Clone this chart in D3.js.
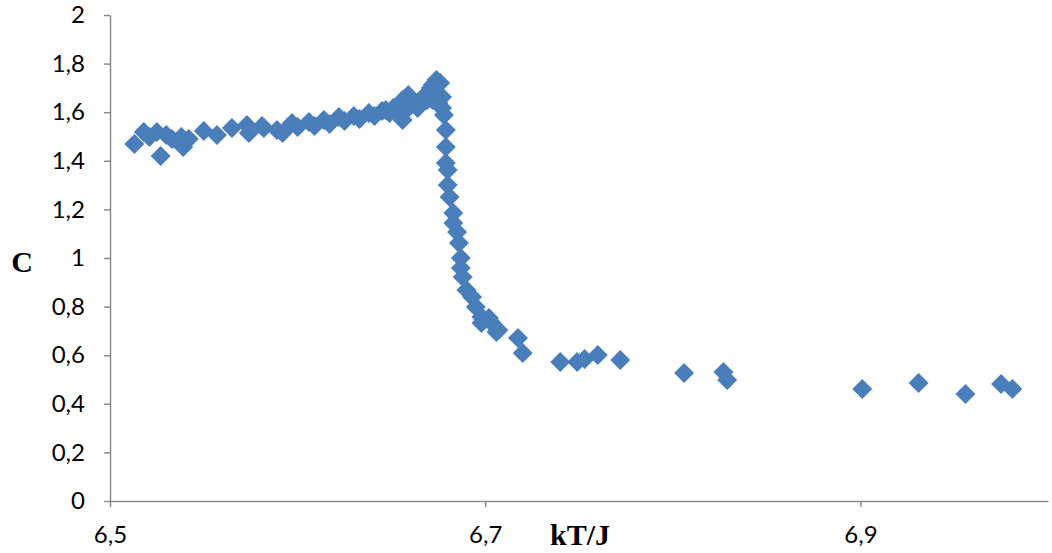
<!DOCTYPE html>
<html>
<head>
<meta charset="utf-8">
<script src="https://cdn.jsdelivr.net/npm/d3@7"></script>
<style>
  html, body { margin: 0; padding: 0; background: #fff; }
  svg { display: block; }
</style>
</head>
<body>
<svg id="chart" width="1052" height="553"></svg>
<script>
// Specific heat C against temperature kT/J
const temperature = [
  6.513, 6.518, 6.521, 6.525, 6.527, 6.530, 6.533, 6.538, 6.539, 6.542,
  6.550, 6.557, 6.565, 6.573, 6.574, 6.581,
  6.582, 6.589, 6.592, 6.597, 6.600, 6.606, 6.609, 6.614, 6.617, 6.622,
  6.625, 6.630, 6.633, 6.638, 6.641, 6.645, 6.649,
  6.647, 6.651, 6.654, 6.656, 6.656, 6.659, 6.659, 6.662, 6.664, 6.667,
  6.669, 6.670, 6.671, 6.672, 6.674, 6.676, 6.677, 6.675, 6.672, 6.677,
  6.678, 6.679, 6.679, 6.679, 6.680, 6.680, 6.681, 6.683, 6.683, 6.685,
  6.686, 6.687, 6.687, 6.688, 6.690, 6.693, 6.695, 6.698, 6.702, 6.698,
  6.703, 6.706, 6.707,
  6.7175, 6.720, 6.740, 6.749, 6.753, 6.760, 6.772, 6.806, 6.827, 6.829,
  6.901, 6.931, 6.956, 6.975, 6.981
];
const heatCapacity = [
  1.469, 1.519, 1.498, 1.519, 1.420, 1.506, 1.490, 1.498, 1.457, 1.490,
  1.523, 1.506, 1.535, 1.547, 1.514, 1.543,
  1.535, 1.527, 1.514, 1.556, 1.539, 1.560, 1.543, 1.568, 1.551, 1.580,
  1.564, 1.584, 1.572, 1.597, 1.584, 1.605, 1.597,
  1.609, 1.617, 1.601, 1.568, 1.650, 1.617, 1.671, 1.642, 1.617, 1.663,
  1.650, 1.683, 1.700, 1.712, 1.733, 1.720, 1.663, 1.638, 1.650, 1.617,
  1.588, 1.527, 1.457, 1.391, 1.362, 1.300, 1.251, 1.185, 1.144, 1.107,
  1.062, 1.000, 0.959, 0.922, 0.868, 0.840, 0.798, 0.757, 0.753, 0.733,
  0.737, 0.695, 0.704,
  0.671, 0.609, 0.572, 0.572, 0.584, 0.601, 0.580, 0.527, 0.531, 0.498,
  0.461, 0.486, 0.440, 0.481, 0.461
];
const xTicks = [6.5, 6.7, 6.9];
const yTicks = [0, 0.2, 0.4, 0.6, 0.8, 1.0, 1.2, 1.4, 1.6, 1.8, 2.0];

const points = temperature.map((t, i) => ({ t, c: heatCapacity[i] }));

const svg = d3.select("#chart");
const plot = { left: 110, right: 1048, top: 15, bottom: 501 };

const x = d3.scaleLinear().domain([6.5, 7.0]).range([plot.left, plot.right]);
const y = d3.scaleLinear().domain([0, 2]).range([plot.bottom, plot.top]);

const axisColor = "#8a8a8a";
const comma = d => String(+d.toFixed(1)).replace(".", ",");

// Y axis
const yAxis = svg.append("g")
  .attr("transform", `translate(${plot.left},0)`)
  .call(d3.axisLeft(y).tickValues(yTicks).tickSize(6).tickSizeOuter(0).tickPadding(19).tickFormat(comma));

// X axis
const xAxis = svg.append("g")
  .attr("transform", `translate(0,${plot.bottom})`)
  .call(d3.axisBottom(x).tickValues(xTicks).tickSize(6).tickSizeOuter(0).tickPadding(19).tickFormat(comma));

[yAxis, xAxis].forEach(g => {
  g.attr("font-size", null).attr("font-family", null);
  g.select(".domain").attr("stroke", axisColor).attr("stroke-width", 1.5);
  g.selectAll(".tick line").attr("stroke", axisColor).attr("stroke-width", 1.5);
  g.selectAll(".tick text")
    .attr("fill", "#000")
    .style("font-family", "Lato, 'Open Sans', sans-serif")
    .style("font-size", "24px");
});

// Diamond markers
const half = 10;
const diamond = `M0,${-half}L${half},0L0,${half}L${-half},0Z`;
svg.append("g")
  .selectAll("path")
  .data(points)
  .join("path")
  .attr("d", diamond)
  .attr("transform", d => `translate(${x(d.t)},${y(d.c)})`)
  .attr("fill", "#4a7ebb");

// Axis titles
svg.append("text")
  .attr("x", 22).attr("y", 272)
  .attr("text-anchor", "middle")
  .style("font-family", "'Liberation Serif', 'Times New Roman', serif")
  .style("font-weight", "bold")
  .style("font-size", "30px")
  .text("C");

svg.append("text")
  .attr("x", 580).attr("y", 545)
  .attr("text-anchor", "middle")
  .style("font-family", "'Liberation Serif', 'Times New Roman', serif")
  .style("font-weight", "bold")
  .style("font-size", "30px")
  .text("kT/J");
</script>
</body>
</html>
